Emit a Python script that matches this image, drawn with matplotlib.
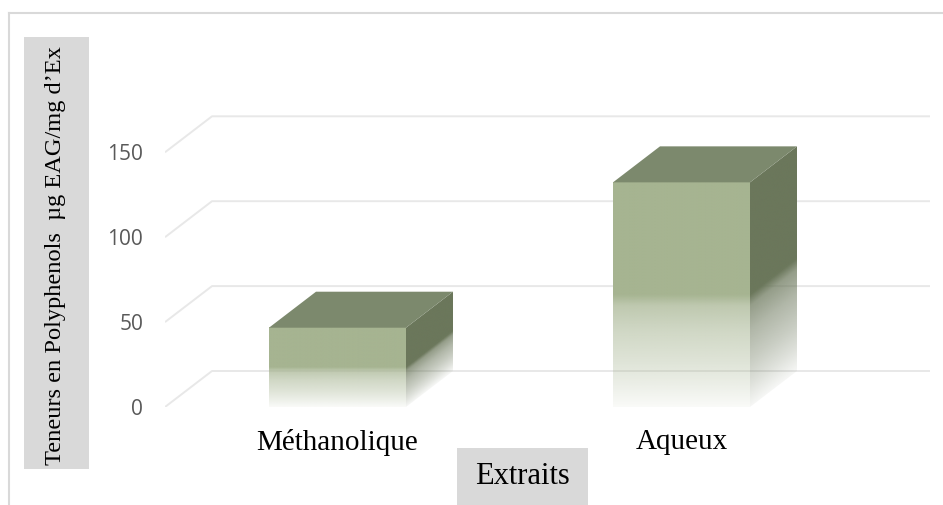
import numpy as np
import matplotlib
matplotlib.use("Agg")
import matplotlib.pyplot as plt
from matplotlib.patches import Polygon, Rectangle

# --- data -------------------------------------------------------------
categories = ["Méthanolique", "Aqueux"]
values = [46.7, 132.3]
yticks = [0, 50, 100, 150]
ylabel = "Teneurs en Polyphenols  µg EAG/mg d’Ex"
xlabel = "Extraits"

# --- style -------------------------------------------------------------
front_rgb = np.array([0xA6, 0xB4, 0x91]) / 255.0
side_rgb = np.array([0x6B, 0x77, 0x5B]) / 255.0
top_color = "#7C896D"
grid_color = "#E8E8E8"
box_color = "#D9D9D9"
tick_color = "#595959"

W, H = 943, 505
fig = plt.figure(figsize=(W / 100, H / 100), dpi=100)
fig.patch.set_facecolor("white")

# plot area (front plane starts at the left edge of the axes)
ax_l, ax_r, ax_b, ax_t = 165, 930, 407, 110
ax = fig.add_axes([ax_l / W, 1 - ax_b / H, (ax_r - ax_l) / W, (ax_b - ax_t) / H])
px_per_cat = 344.0
px_per_unit = 1.698
x0 = -(337.5 - ax_l) / px_per_cat
x1 = (ax_r - 337.5) / px_per_cat
y1 = (ax_b - ax_t) / px_per_unit
ax.set_xlim(x0, x1)
ax.set_ylim(0, y1)
ax.patch.set_alpha(0)
for s in ax.spines.values():
    s.set_visible(False)

# oblique depth of the 3-D effect, in data units
ddx = 47 / px_per_cat
ddy = 36 / px_per_unit
bar_w = 137 / px_per_cat

# floor / wall gridlines
for v in yticks:
    ax.plot([x0, x0 + ddx, x1], [v, v + ddy, v + ddy], color=grid_color,
            lw=1.4, zorder=0, solid_capstyle="butt")

# opacity profile along the height of a face (fraction of bar height)
prof_t = [0.0, 0.1, 0.2, 0.34, 0.45, 0.5, 1.0]
prof_a = [0.06, 0.22, 0.36, 0.53, 0.72, 1.0, 1.0]


def face_image(rgb, frac):
    img = np.zeros(frac.shape + (4,))
    img[..., :3] = rgb
    img[..., 3] = np.interp(np.clip(frac, 0, 1), prof_t, prof_a)
    return img


for i, (cat, v) in enumerate(zip(categories, values)):
    xl, xr = i - bar_w / 2, i + bar_w / 2

    # front face
    ys = np.linspace(0, 1, 300)[:, None] * np.ones((1, 10))
    ax.imshow(face_image(front_rgb, ys), extent=[xl, xr, 0, v], origin="lower",
              aspect="auto", interpolation="bilinear", zorder=3)

    # right side face (parallelogram), fading parallel to its bottom edge
    nx, ny = 80, 400
    gx = np.linspace(xr, xr + ddx, nx)
    gy = np.linspace(0, v + ddy, ny)
    GX, GY = np.meshgrid(gx, gy)
    local_h = GY - (GX - xr) / ddx * ddy
    side_poly = Polygon([(xr, 0), (xr + ddx, ddy), (xr + ddx, v + ddy), (xr, v)],
                        closed=True, facecolor="none", edgecolor="none",
                        transform=ax.transData)
    im = ax.imshow(face_image(side_rgb, local_h / v), extent=[xr, xr + ddx, 0, v + ddy],
                   origin="lower", aspect="auto", interpolation="bilinear", zorder=3)
    im.set_clip_path(side_poly)

    # top face
    ax.add_patch(Polygon([(xl, v), (xr, v), (xr + ddx, v + ddy), (xl + ddx, v + ddy)],
                         closed=True, facecolor=top_color, edgecolor="none", zorder=4))

ax.set_xlim(x0, x1)
ax.set_ylim(0, y1)

ax.set_yticks(yticks)
ax.set_yticklabels([str(t) for t in yticks], fontfamily="Open Sans", fontsize=15,
                   color=tick_color)
ax.set_xticks(range(len(categories)))
ax.set_xticklabels(categories, fontfamily="Liberation Serif", fontsize=21, color="black")
ax.tick_params(axis="y", length=0, pad=15.8)
ax.tick_params(axis="x", length=0, pad=16)

# chart border
fig.add_artist(plt.Line2D([9 / W, 1], [1 - 13 / H, 1 - 13 / H], color=box_color, lw=1.5,
                          transform=fig.transFigure))
fig.add_artist(plt.Line2D([9 / W, 9 / W], [0, 1 - 13 / H], color=box_color, lw=1.5,
                          transform=fig.transFigure))

# axis titles in grey boxes
fig.add_artist(Rectangle((24 / W, 1 - 469 / H), 65 / W, 432 / H, transform=fig.transFigure,
                         facecolor=box_color, edgecolor="none"))
fig.text(56 / W, 1 - 256 / H, ylabel, rotation=90, ha="center", va="center",
         fontfamily="Liberation Serif", fontsize=17.6, color="black")

fig.add_artist(Rectangle((457 / W, 0), 131 / W, 57 / H, transform=fig.transFigure,
                         facecolor=box_color, edgecolor="none"))
fig.text(522 / W, 1 - 477 / H, xlabel, ha="center", va="center",
         fontfamily="Liberation Serif", fontsize=22, color="black")

fig.savefig("out.png", dpi=100)
